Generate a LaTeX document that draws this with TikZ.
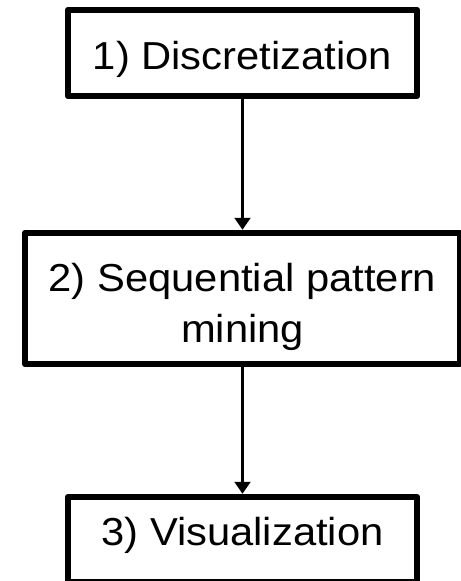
\documentclass[tikz,border=0pt]{standalone}
\usepackage{fontspec}
\setmainfont{Liberation Sans}[FakeStretch=1.07]
\usetikzlibrary{arrows.meta}
\begin{document}
\begin{tikzpicture}[x=1bp,y=-1bp,
  stepbox/.style={draw=black, line width=6.5bp, line join=round, inner sep=0pt,
    font=\fontsize{39bp}{51bp}\selectfont, align=center},
  arr/.style={draw=black, line width=2.2bp, -{Triangle[width=16bp,length=12bp]}}]
\useasboundingbox[fill=white] (0,0) rectangle (461,581);
\node[stepbox, minimum width=349bp, minimum height=86bp, text height=60bp, text depth=26bp]
  (b1) at (242.5,53) {1) Discretization};
\node[stepbox, minimum width=435bp, minimum height=131bp, text height=109bp, text depth=22bp]
  (b2) at (242.5,298.5) {2) Sequential pattern\\mining};
\node[stepbox, minimum width=349bp, minimum height=85bp, text height=48bp, text depth=37bp]
  (b3) at (242.5,539.5) {3) Visualization};
\draw[arr] (b1.south) -- (b2.north);
\draw[arr] (b2.south) -- (b3.north);
\end{tikzpicture}
\end{document}
